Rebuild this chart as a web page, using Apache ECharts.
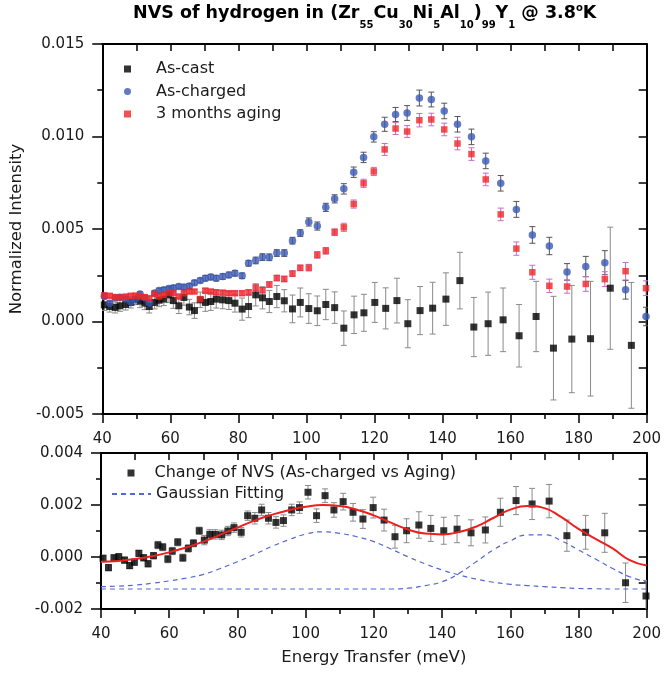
<!DOCTYPE html>
<html>
<head>
<meta charset="utf-8">
<script src="https://cdn.jsdelivr.net/npm/echarts@6/dist/echarts.min.js"></script>
<style>
  html, body { margin: 0; background: #fff; }
  #chart { width: 664px; height: 675px; }
</style>
</head>
<body>
<div id="chart"></div>
<script>
// energy grid shared by the as-charged / aging runs and their difference (meV)
const energy = [40.6, 42.2, 43.8, 45.2, 46.9, 48.4, 49.8, 51.1, 52.5, 53.8, 55.4, 56.7, 58.1, 59.6, 60.9,
  62.5, 64.0, 65.6, 67.1, 68.8, 70.3, 71.9, 73.5, 75.4, 77.2, 79.0, 81.1, 83.0, 85.1, 87.1, 89.1, 91.3,
  93.5, 95.9, 98.2, 100.7, 103.2, 105.7, 108.3, 111.0, 113.9, 116.8, 119.8, 123.0, 126.2, 129.6, 133.2,
  136.7, 140.5, 144.4, 148.5, 152.7, 157.1, 161.7, 166.4, 171.4, 176.6, 182.1, 187.7, 193.8, 199.8];

const asCharged = [0.00137, 0.00098, 0.00129, 0.00131, 0.00123, 0.00106, 0.0012, 0.00149, 0.00129, 0.001,
  0.00154, 0.00167, 0.00171, 0.00178, 0.00182, 0.00189, 0.00186, 0.00192, 0.0021, 0.00222, 0.00234, 0.0024,
  0.00234, 0.00243, 0.00252, 0.00261, 0.00247, 0.00315, 0.0033, 0.00348, 0.00347, 0.0037, 0.0037, 0.00437,
  0.00478, 0.00538, 0.00516, 0.00617, 0.00663, 0.00717, 0.00807, 0.00887, 0.00998, 0.01066, 0.01119, 0.01127,
  0.01208, 0.012, 0.01138, 0.01066, 0.00998, 0.00868, 0.00747, 0.00606, 0.00468, 0.00408, 0.00268, 0.00297,
  0.00318, 0.00171, 0.00027];
const asChargedErr = [0.00012, 0.00012, 0.00012, 0.00012, 0.00012, 0.00012, 0.00012, 0.00012, 0.00012, 0.00012,
  0.00012, 0.00013, 0.00013, 0.00013, 0.00013, 0.00013, 0.00013, 0.00013, 0.00013, 0.00013, 0.00015, 0.00015,
  0.00015, 0.00015, 0.00015, 0.00015, 0.00015, 0.00015, 0.00018, 0.00018, 0.00018, 0.00018, 0.00018, 0.00018,
  0.00018, 0.00022, 0.00022, 0.00022, 0.00022, 0.00028, 0.00028, 0.00028, 0.00028, 0.00038, 0.00038, 0.0004,
  0.00043, 0.0004, 0.00042, 0.00042, 0.00042, 0.00042, 0.00042, 0.00043, 0.00045, 0.00047, 0.00045, 0.00055,
  0.00065, 0.0005, 0.0005];

const aging = [0.00142, 0.00139, 0.00132, 0.0013, 0.00135, 0.00139, 0.0014, 0.00135, 0.00132, 0.00126,
  0.00149, 0.00135, 0.00144, 0.00156, 0.00153, 0.00135, 0.00153, 0.00162, 0.00162, 0.00121, 0.00167, 0.00162,
  0.00158, 0.00156, 0.00153, 0.00153, 0.00153, 0.00158, 0.00183, 0.00169, 0.002, 0.00235, 0.0023, 0.00259,
  0.0029, 0.00291, 0.0036, 0.00382, 0.00483, 0.00509, 0.00635, 0.00747, 0.00811, 0.0093, 0.01043, 0.01027,
  0.01088, 0.01092, 0.01038, 0.00962, 0.00905, 0.00768, 0.00579, 0.00394, 0.00266, 0.00193, 0.00189, 0.00203,
  0.00229, 0.00272, 0.0018];
const agingErr = [0.0001, 0.0001, 0.0001, 0.0001, 0.0001, 0.0001, 0.0001, 0.0001, 0.0001, 0.0001,
  0.0001, 0.0001, 0.0001, 0.0001, 0.0001, 0.0001, 0.0001, 0.0001, 0.0001, 0.0001, 0.00012, 0.00012,
  0.00012, 0.00012, 0.00012, 0.00012, 0.00012, 0.00012, 0.00015, 0.00015, 0.00015, 0.00015, 0.00015, 0.00015,
  0.00015, 0.00018, 0.00018, 0.00018, 0.00018, 0.00022, 0.00022, 0.00022, 0.00022, 0.00032, 0.00032, 0.00032,
  0.00036, 0.00034, 0.00034, 0.00034, 0.00034, 0.00034, 0.00034, 0.00036, 0.00038, 0.00036, 0.00036, 0.0004,
  0.0004, 0.00047, 0.0004];

// as-cast run was binned on a slightly different grid
const energyCast = [40.6, 42.2, 43.8, 45.2, 46.9, 48.4, 49.8, 51.1, 52.5, 53.8, 55.4, 56.7, 58.1, 59.6, 60.9,
  62.5, 64.0, 65.6, 67.1, 68.8, 70.3, 71.9, 73.5, 75.4, 77.2, 79.0, 81.1, 83.0, 85.1, 87.1, 89.1, 91.3,
  93.5, 95.9, 98.2, 100.7, 103.2, 105.7, 108.3, 111.0, 114.0, 116.9, 120.1, 123.3, 126.6, 129.8, 133.4,
  137.1, 141.0, 145.1, 149.2, 153.4, 157.8, 162.5, 167.5, 172.6, 178.0, 183.5, 189.3, 195.5];
const asCast = [0.0009, 0.00081, 0.00076, 0.00085, 0.00092, 0.00103, 0.00121, 0.0011, 0.00099, 0.00081,
  0.00103, 0.00115, 0.00121, 0.00144, 0.00113, 0.00085, 0.0013, 0.00078, 0.00059, 0.00117, 0.00103, 0.00108,
  0.00121, 0.00117, 0.00113, 0.00099, 0.00067, 0.00081, 0.00144, 0.00128, 0.00108, 0.00135, 0.00112, 0.00068,
  0.00103, 0.0007, 0.00058, 0.00092, 0.00075, -0.00036, 0.00036, 0.00047, 0.00103, 0.00071, 0.00113, -0.00012,
  0.00059, 0.00072, 0.00121, 0.00221, -0.0003, -0.00012, 0.00009, -0.00077, 0.00027, -0.00144, -0.00095,
  -0.00093, 0.0018, -0.00129];
const asCastErr = [0.0003, 0.0003, 0.0003, 0.0003, 0.0003, 0.0003, 0.0003, 0.00035, 0.00035, 0.00035,
  0.00035, 0.00035, 0.00035, 0.00042, 0.00042, 0.00042, 0.00042, 0.00042, 0.00042, 0.00042, 0.00048, 0.00048,
  0.00048, 0.00048, 0.00048, 0.00048, 0.0006, 0.0006, 0.0006, 0.0006, 0.0006, 0.0006, 0.0006, 0.00075,
  0.00078, 0.0008, 0.0008, 0.00082, 0.00085, 0.00093, 0.00101, 0.001, 0.00108, 0.00111, 0.00121, 0.0013,
  0.0013, 0.0014, 0.00142, 0.00153, 0.0016, 0.00171, 0.00172, 0.00169, 0.0019, 0.0028, 0.0029, 0.0031,
  0.0033, 0.0034];

// lower panel: change of NVS (as-charged minus aging)
const changeNVS = [-0.00005, -0.00041, -0.00003, 0.00001, -0.00012, -0.00033, -0.0002, 0.00014, -0.00003,
  -0.00026, 0.00005, 0.00046, 0.00038, -0.00008, 0.00023, 0.00057, -0.00003, 0.00033, 0.00053, 0.00101,
  0.00065, 0.00087, 0.00087, 0.00085, 0.001, 0.00113, 0.00095, 0.00159, 0.00149, 0.00181, 0.00149, 0.00133,
  0.0014, 0.00181, 0.0019, 0.00249, 0.00159, 0.00236, 0.00181, 0.00213, 0.00172, 0.00146, 0.0019, 0.00142,
  0.00078, 0.00101, 0.00123, 0.0011, 0.00101, 0.00107, 0.00093, 0.00104, 0.00172, 0.00217, 0.00204, 0.00215,
  0.00082, 0.00095, 0.00093, -0.00099, -0.0015];
const changeErr = [0.00012, 0.00012, 0.00012, 0.00012, 0.00012, 0.00012, 0.00012, 0.00012, 0.00012, 0.00012,
  0.00012, 0.00014, 0.00014, 0.00014, 0.00014, 0.00014, 0.00014, 0.00014, 0.00014, 0.00014, 0.00018, 0.00018,
  0.00018, 0.00018, 0.00018, 0.00018, 0.00018, 0.00018, 0.00022, 0.00022, 0.00022, 0.00022, 0.00022, 0.00022,
  0.00022, 0.00026, 0.00026, 0.00026, 0.00028, 0.00032, 0.00034, 0.00036, 0.0004, 0.00042, 0.00044, 0.00046,
  0.00051, 0.0005, 0.00052, 0.00052, 0.0005, 0.0005, 0.00054, 0.00054, 0.0006, 0.00064, 0.0006, 0.00065,
  0.00075, 0.00076, 0.0006];

// fitted curves
const fitEnergy = [40, 45, 50, 55, 60, 65, 70, 75, 80, 85, 90, 95, 100, 105, 110, 115, 120, 125, 130, 135,
  140, 145, 150, 155, 160, 165, 170, 175, 180, 185, 190, 195, 200];
const fitTotal = [-0.00018, -0.00015, -0.00008, 0.00003, 0.00018, 0.00037, 0.00059, 0.00086, 0.00113, 0.0014,
  0.00162, 0.0018, 0.00193, 0.002, 0.00196, 0.00182, 0.0016, 0.00132, 0.00106, 0.0009, 0.00087, 0.00096,
  0.00117, 0.0015, 0.00182, 0.00196, 0.00188, 0.00153, 0.00108, 0.0007, 0.00033, -0.00012, -0.00033];
const gauss1 = [-0.00114, -0.00112, -0.00108, -0.00101, -0.00092, -0.00081, -0.00067, -0.00044, -0.00018,
  0.0001, 0.0004, 0.00066, 0.00088, 0.00097, 0.00091, 0.00078, 0.00059, 0.00031, 0.00001, -0.00026, -0.0005,
  -0.00069, -0.00085, -0.00097, -0.00105, -0.0011, -0.00114, -0.00118, -0.00121, -0.00122, -0.00123,
  -0.00123, -0.00123];
const gauss2 = [-0.00123, -0.00123, -0.00123, -0.00123, -0.00123, -0.00123, -0.00123, -0.00123, -0.00123,
  -0.00123, -0.00123, -0.00123, -0.00123, -0.00123, -0.00123, -0.00123, -0.00123, -0.00123, -0.0012, -0.0011,
  -0.00095, -0.00063, -0.00018, 0.00027, 0.00062, 0.00085, 0.00085, 0.00062, 0.00027, -0.00008, -0.00044,
  -0.00076, -0.00095];

const FONT = '"DejaVu Sans", Verdana, sans-serif';
const INK = '#1a1a1a';

const pairs = (xs, ys) => xs.map((x, i) => [x, ys[i]]);
const bars = (xs, ys, es) => xs.map((x, i) => [x, ys[i] - es[i], ys[i] + es[i]]);
const fmt3 = (v) => (Math.abs(v) < 1e-12 ? 0 : v).toFixed(3);

function errorBarSeries(name, xIdx, yIdx, data, color) {
  return {
    name: name,
    type: 'custom',
    xAxisIndex: xIdx,
    yAxisIndex: yIdx,
    clip: true,
    silent: true,
    encode: { x: 0, y: [1, 2] },
    data: data,
    renderItem(params, api) {
      const lo = api.coord([api.value(0), api.value(1)]);
      const hi = api.coord([api.value(0), api.value(2)]);
      const style = { stroke: color, lineWidth: 1 };
      return {
        type: 'group',
        children: [
          { type: 'line', shape: { x1: lo[0], y1: lo[1], x2: hi[0], y2: hi[1] }, style },
          { type: 'line', shape: { x1: lo[0] - 3, y1: lo[1], x2: lo[0] + 3, y2: lo[1] }, style },
          { type: 'line', shape: { x1: hi[0] - 3, y1: hi[1], x2: hi[0] + 3, y2: hi[1] }, style }
        ]
      };
    }
  };
}

const frame = { onZero: false, lineStyle: { color: '#000', width: 2 } };
const tickStyle = { color: '#000', width: 1.5 };

function energyAxes(grid, withName) {
  return [
    {
      gridIndex: grid, type: 'value', position: 'bottom', min: 40, max: 200, interval: 20,
      name: withName ? 'Energy Transfer (meV)' : '', nameLocation: 'middle', nameGap: 40,
      nameTextStyle: { fontSize: 16.5, color: INK, fontFamily: FONT },
      axisLine: frame,
      axisTick: { length: 9, lineStyle: tickStyle },
      minorTick: { show: true, splitNumber: 2, length: 5, lineStyle: tickStyle },
      axisLabel: { fontSize: 15, margin: 18, color: INK, fontFamily: FONT },
      splitLine: { show: false }
    },
    {
      gridIndex: grid, type: 'value', position: 'top', min: 40, max: 200, interval: 10,
      axisLine: frame,
      axisTick: { inside: true, length: 7, lineStyle: tickStyle },
      axisLabel: { show: false },
      splitLine: { show: false }
    }
  ];
}

function intensityAxes(grid, min, max, step, name) {
  return [
    {
      gridIndex: grid, type: 'value', position: 'left', min: min, max: max, interval: step,
      name: name, nameLocation: 'middle', nameGap: 76,
      nameTextStyle: { fontSize: 16.5, color: INK, fontFamily: FONT },
      axisLine: frame,
      axisTick: { length: 10, lineStyle: tickStyle },
      minorTick: { show: true, splitNumber: 2, length: 5, lineStyle: tickStyle },
      axisLabel: { fontSize: 15, margin: 18, color: INK, fontFamily: FONT, formatter: fmt3 },
      splitLine: { show: false }
    },
    {
      gridIndex: grid, type: 'value', position: 'right', min: min, max: max, interval: step / 2,
      axisLine: frame,
      axisTick: { inside: true, length: 8, lineStyle: tickStyle },
      axisLabel: { show: false },
      splitLine: { show: false }
    }
  ];
}

const title = '{b|NVS of hydrogen in (Zr}{s|55}{b|Cu}{s|30}{b|Ni}{s|5}{b|Al}{s|10}{b|)}{s|99}{b|Y}{s|1}' +
  '{b| @ 3.8}{u|o}{b|K}';

const chart = echarts.init(document.getElementById('chart'));
chart.setOption({
  animation: false,
  backgroundColor: '#fff',
  textStyle: { fontFamily: FONT },
  title: {
    text: title,
    left: 133,
    top: -4.4,
    padding: 0,
    textStyle: {
      fontFamily: FONT,
      rich: {
        b: { fontSize: 17.5, fontWeight: 'bold', color: '#000', fontFamily: FONT, lineHeight: 35.2 },
        s: { fontSize: 10, fontWeight: 'bold', color: '#000', fontFamily: FONT, verticalAlign: 'bottom' },
        u: { fontSize: 10, fontWeight: 'bold', color: '#000', fontFamily: FONT, verticalAlign: 'top', padding: [7.5, 0, 0, 0] }
      }
    }
  },
  legend: [
    {
      data: ['As-cast', 'As-charged', '3 months aging'],
      orient: 'vertical', left: 124, top: 61, padding: 0, itemGap: 6.5,
      itemWidth: 7, itemHeight: 7,
      textStyle: { fontSize: 16, color: INK, fontFamily: FONT, padding: [0, 0, 0, 20] }
    },
    {
      data: ['Change of NVS (As-charged vs Aging)'],
      left: 127.5, top: 465, padding: 0, itemWidth: 7, itemHeight: 7,
      textStyle: { fontSize: 16, color: INK, fontFamily: FONT, padding: [0, 0, 0, 15] }
    },
    {
      data: ['Gaussian Fitting'],
      left: 111, top: 486, padding: 0, itemWidth: 39, itemHeight: 10,
      itemStyle: { opacity: 0 },
      textStyle: { fontSize: 16, color: INK, fontFamily: FONT }
    }
  ],
  grid: [
    { left: 101, top: 44, width: 547, height: 370 },
    { left: 101, top: 453, width: 547, height: 156 }
  ],
  xAxis: [...energyAxes(0, false), ...energyAxes(1, true)],
  yAxis: [
    ...intensityAxes(0, -0.005, 0.015, 0.005, 'Normalized Intensity'),
    ...intensityAxes(1, -0.002, 0.004, 0.002, '')
  ],
  series: [
    errorBarSeries('castErr', 0, 0, bars(energyCast, asCast, asCastErr), '#8a8a8a'),
    {
      name: 'As-cast', type: 'scatter', xAxisIndex: 0, yAxisIndex: 0,
      symbol: 'rect', symbolSize: 7, itemStyle: { color: '#000' },
      data: pairs(energyCast, asCast)
    },
    errorBarSeries('chargedErr', 0, 0, bars(energy, asCharged, asChargedErr), '#555'),
    {
      name: 'As-charged', type: 'scatter', xAxisIndex: 0, yAxisIndex: 0,
      symbol: 'circle', symbolSize: 7.5, itemStyle: { color: '#3a59b4' },
      data: pairs(energy, asCharged)
    },
    errorBarSeries('agingErr', 0, 0, bars(energy, aging, agingErr), '#c46ccc'),
    {
      name: '3 months aging', type: 'scatter', xAxisIndex: 0, yAxisIndex: 0,
      symbol: 'rect', symbolSize: 6.5, itemStyle: { color: '#f02626' },
      data: pairs(energy, aging)
    },
    {
      name: 'Gaussian Fitting', type: 'line', xAxisIndex: 2, yAxisIndex: 2,
      smooth: true, symbol: 'none', silent: true,
      itemStyle: { color: '#5567d0' },
      lineStyle: { color: '#5567d0', width: 1.2, type: [5, 4] },
      data: pairs(fitEnergy, gauss1)
    },
    {
      name: 'Gaussian Fitting', type: 'line', xAxisIndex: 2, yAxisIndex: 2,
      smooth: true, symbol: 'none', silent: true,
      itemStyle: { color: '#5567d0' },
      lineStyle: { color: '#5567d0', width: 1.2, type: [5, 4] },
      data: pairs(fitEnergy, gauss2)
    },
    errorBarSeries('changeErr', 2, 2, bars(energy, changeNVS, changeErr), '#8a8a8a'),
    {
      name: 'Change of NVS (As-charged vs Aging)', type: 'scatter', xAxisIndex: 2, yAxisIndex: 2,
      symbol: 'rect', symbolSize: 7, itemStyle: { color: '#000' },
      data: pairs(energy, changeNVS)
    },
    {
      name: 'fit', type: 'line', xAxisIndex: 2, yAxisIndex: 2,
      smooth: true, symbol: 'none', silent: true, z: 3,
      lineStyle: { color: '#ee1f1f', width: 2 },
      data: pairs(fitEnergy, fitTotal)
    }
  ]
});
</script>
</body>
</html>
